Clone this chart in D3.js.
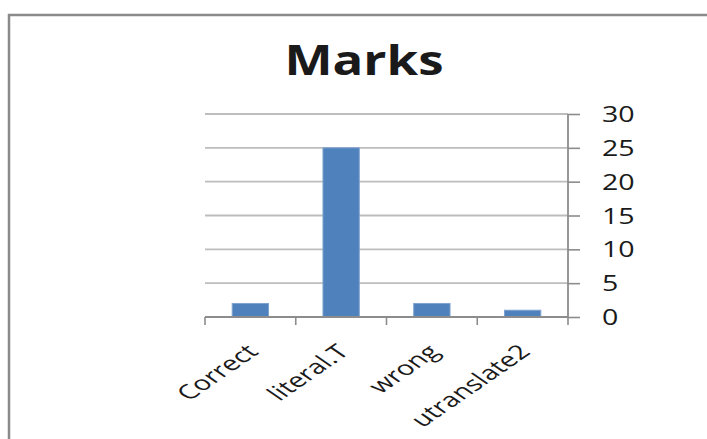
<!DOCTYPE html>
<html>
<head>
<meta charset="utf-8">
<script src="https://cdn.jsdelivr.net/npm/d3@7"></script>
<style>
  html, body { margin: 0; padding: 0; background: #fff; }
  svg { display: block; }
  text { font-family: "Open Sans", "DejaVu Sans", sans-serif; fill: #1a1a1a; }
</style>
</head>
<body>
<svg id="chart" width="707" height="439"></svg>
<script>
// Marks per category
const categories = ["Correct", "literal.T", "wrong", "utranslate2"];
const marks = [2, 25, 2, 1];
const yTicks = [0, 5, 10, 15, 20, 25, 30];
const chartTitle = "Marks";

const svg = d3.select("#chart");
const W = 707, H = 439;

// chart area frame
svg.append("rect")
  .attr("x", 9).attr("y", 15)
  .attr("width", W + 20).attr("height", H + 20)
  .attr("fill", "#fff")
  .attr("stroke", "#8a8a8a")
  .attr("stroke-width", 2.5);

const plot = { left: 205, right: 568, top: 114, bottom: 317 };

const x = d3.scaleBand()
  .domain(categories)
  .range([plot.left, plot.right])
  .paddingInner(0.6)
  .paddingOuter(0.3);

const y = d3.scaleLinear()
  .domain([0, 30])
  .range([plot.bottom, plot.top]);

// horizontal gridlines
svg.append("g")
  .selectAll("line")
  .data(yTicks.filter(d => d > 0))
  .join("line")
  .attr("x1", plot.left).attr("x2", plot.right)
  .attr("y1", d => y(d)).attr("y2", d => y(d))
  .attr("stroke", "#bdbdbd")
  .attr("stroke-width", 1.8);

// bars
svg.append("g")
  .selectAll("rect")
  .data(marks)
  .join("rect")
  .attr("x", (d, i) => x(categories[i]))
  .attr("y", d => y(d))
  .attr("width", x.bandwidth())
  .attr("height", d => y(0) - y(d))
  .attr("fill", "#4f81bd")
  .attr("stroke", "#7ea2cf")
  .attr("stroke-width", 1);

// right value axis
const yAxis = d3.axisRight(y)
  .tickValues(yTicks)
  .tickSize(12)
  .tickFormat(d3.format("d"));

const ya = svg.append("g")
  .attr("transform", `translate(${plot.right},0)`)
  .call(yAxis);
ya.select(".domain").attr("stroke", "#8c8c8c").attr("stroke-width", 1.8)
  .attr("d", `M0,${plot.top}V${plot.bottom}`);
ya.selectAll(".tick line").attr("stroke", "#8c8c8c").attr("stroke-width", 1.6);
ya.selectAll(".tick text")
  .attr("x", 0)
  .attr("transform", "translate(34,0) scale(1.36,1)")
  .attr("font-size", 21)
  .attr("fill", "#222")
  .attr("text-anchor", "start")
  .attr("dy", "0.36em");

// bottom category axis with boundary ticks
const xa = svg.append("g");
xa.append("line")
  .attr("x1", plot.left).attr("x2", plot.right)
  .attr("y1", plot.bottom).attr("y2", plot.bottom)
  .attr("stroke", "#8c8c8c").attr("stroke-width", 1.8);
const boundaryX = d3.range(categories.length + 1)
  .map(i => plot.left + i * (plot.right - plot.left) / categories.length);
xa.selectAll("line.tk")
  .data(boundaryX)
  .join("line")
  .attr("class", "tk")
  .attr("x1", d => d).attr("x2", d => d)
  .attr("y1", plot.bottom).attr("y2", plot.bottom + 8)
  .attr("stroke", "#8c8c8c").attr("stroke-width", 1.6);

// rotated category labels (wide face)
xa.selectAll("text")
  .data(categories)
  .join("text")
  .attr("transform", d => `translate(${x(d) + x.bandwidth() / 2 + 2},${plot.bottom + 31}) scale(1.45,1) rotate(-45)`)
  .attr("text-anchor", "end")
  .attr("dy", "0.35em")
  .attr("font-size", 20)
  .attr("fill", "#222")
  .text(d => d);

// title
svg.append("text")
  .attr("transform", "translate(364,75) scale(1.215,1)")
  .attr("text-anchor", "middle")
  .attr("font-size", 42)
  .attr("font-weight", 700)
  .attr("fill", "#000")
  .text(chartTitle);
</script>
</body>
</html>
